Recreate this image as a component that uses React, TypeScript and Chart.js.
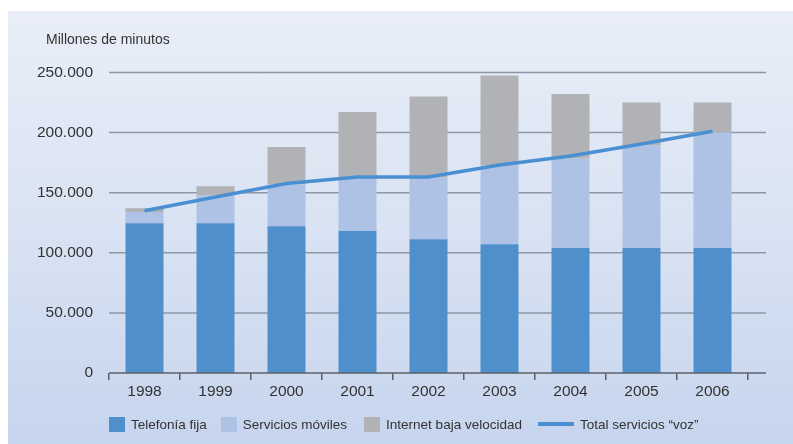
import React, { useEffect, useRef } from "react";
import { Chart, registerables } from "chart.js";

Chart.register(...registerables);

const years = ["1998", "1999", "2000", "2001", "2002", "2003", "2004", "2005", "2006"];
const telefoniaFija = [124500, 124500, 122000, 118000, 111300, 107000, 104000, 104000, 104000];
const serviciosMoviles = [9500, 23300, 35000, 45000, 51200, 65800, 74300, 85400, 96200];
const internetBaja = [3000, 7500, 31000, 54000, 67500, 74700, 53700, 35600, 24800];
const totalVoz = [135000, 146400, 157600, 163000, 163000, 173000, 180500, 190500, 201000];
const yMax = 250000;
const yStep = 50000;
const yTitle = "Millones de minutos";
const legendNames = ["Telefonía fija", "Servicios móviles", "Internet baja velocidad", "Total servicios “voz”"];

const C_FIJA = "#4f8fcc";
const C_MOV = "#adc2e4";
const C_INT = "#b1b2b5";
const C_LINE = "#4a8fd1";
const C_TEXT = "#333333";
const C_GRID = "#8d97a5";
const C_AXIS = "#5b6068";
const FONT = "'Liberation Sans', Arial, sans-serif";
const W = 785;
const H = 433;
const EXT = 18;

const fmt = (n: number) => String(n).replace(/\B(?=(\d{3})+(?!\d))/g, ".");

const gridPlugin = {
  id: "extGrid",
  beforeDatasetsDraw(chart: any) {
    const { ctx, chartArea, scales } = chart;
    const y = scales.y;
    ctx.save();
    ctx.strokeStyle = C_GRID;
    ctx.lineWidth = 1.5;
    y.ticks.forEach((t: any) => {
      if (t.value === 0) return;
      const py = y.getPixelForValue(t.value);
      ctx.beginPath();
      ctx.moveTo(chartArea.left, py);
      ctx.lineTo(chartArea.right + EXT, py);
      ctx.stroke();
    });
    ctx.restore();
  },
  afterDatasetsDraw(chart: any) {
    const { ctx, chartArea, scales } = chart;
    const py = scales.y.getPixelForValue(0);
    ctx.save();
    ctx.strokeStyle = C_AXIS;
    ctx.lineWidth = 1.5;
    ctx.beginPath();
    ctx.moveTo(chartArea.left, py);
    ctx.lineTo(chartArea.right + EXT, py);
    ctx.stroke();
    ctx.restore();
  },
};

export default function App() {
  const ref = useRef<HTMLCanvasElement | null>(null);

  useEffect(() => {
    if (!ref.current) return;
    const barCommon = {
      stack: "a",
      order: 1,
      categoryPercentage: 1,
      barPercentage: 0.535,
      borderWidth: 0,
    };
    const chart = new Chart(ref.current, {
      type: "bar",
      data: {
        labels: years,
        datasets: [
          { ...barCommon, label: legendNames[0], data: telefoniaFija, backgroundColor: C_FIJA },
          { ...barCommon, label: legendNames[1], data: serviciosMoviles, backgroundColor: C_MOV },
          { ...barCommon, label: legendNames[2], data: internetBaja, backgroundColor: C_INT },
          {
            type: "line",
            label: legendNames[3],
            data: totalVoz,
            stack: "total",
            order: 0,
            borderColor: C_LINE,
            borderWidth: 3.5,
            pointRadius: 0,
            tension: 0,
            fill: false,
          } as any,
        ],
      },
      options: {
        animation: false,
        responsive: false,
        devicePixelRatio: 1,
        layout: { padding: { left: 0, right: 45, top: 61.4, bottom: 0 } },
        plugins: {
          legend: { display: false },
          tooltip: { enabled: false },
          title: { display: false },
        },
        scales: {
          x: {
            stacked: true,
            offset: true,
            grid: {
              display: true,
              offset: true,
              drawOnChartArea: false,
              drawTicks: true,
              tickLength: 7,
              color: C_AXIS,
              lineWidth: 1.5,
            },
            border: { display: false },
            ticks: {
              color: C_TEXT,
              padding: 3,
              font: { family: FONT, size: 15.5, lineHeight: 1.1 },
            },
            afterFit: (s: any) => {
              s.height = 71;
            },
          },
          y: {
            stacked: true,
            min: 0,
            max: yMax,
            grid: { display: false },
            border: { display: false },
            ticks: {
              stepSize: yStep,
              color: C_TEXT,
              padding: 8,
              font: { family: FONT, size: 15.5 },
              callback: (v: any) => fmt(Number(v)),
            },
            afterFit: (s: any) => {
              s.width = 101;
            },
          },
        },
      },
      plugins: [gridPlugin],
    });
    return () => chart.destroy();
  }, []);

  const legendItem = (swatch: React.ReactNode, text: string, mr: number) => (
    <div style={{ display: "flex", alignItems: "center", marginRight: mr }}>
      {swatch}
      <span style={{ marginLeft: 6 }}>{text}</span>
    </div>
  );
  const box = (c: string) => <span style={{ display: "inline-block", width: 16, height: 15, background: c }} />;

  return (
    <div
      style={{
        position: "fixed",
        left: 8,
        top: 11,
        width: W,
        height: H,
        background: "linear-gradient(to bottom, #e9eef8 0%, #dbe4f3 45%, #c6d5ee 100%)",
      }}
    >
      <canvas ref={ref} width={W} height={H} style={{ position: "absolute", left: 0, top: 0, width: W, height: H }} />
      <div
        style={{
          position: "absolute",
          left: 38,
          top: 19,
          height: 18,
          lineHeight: "18px",
          fontFamily: FONT,
          fontSize: 14,
          color: C_TEXT,
          whiteSpace: "nowrap",
        }}
      >
        {yTitle}
      </div>
      <div
        style={{
          position: "absolute",
          left: 101,
          top: 402,
          height: 22,
          display: "flex",
          alignItems: "center",
          fontFamily: FONT,
          fontSize: 13.5,
          color: C_TEXT,
          whiteSpace: "nowrap",
        }}
      >
        {legendItem(box(C_FIJA), legendNames[0], 14)}
        {legendItem(box(C_MOV), legendNames[1], 17)}
        {legendItem(box(C_INT), legendNames[2], 16)}
        {legendItem(<span style={{ display: "inline-block", width: 36, height: 4, background: C_LINE }} />, legendNames[3], 0)}
      </div>
    </div>
  );
}
